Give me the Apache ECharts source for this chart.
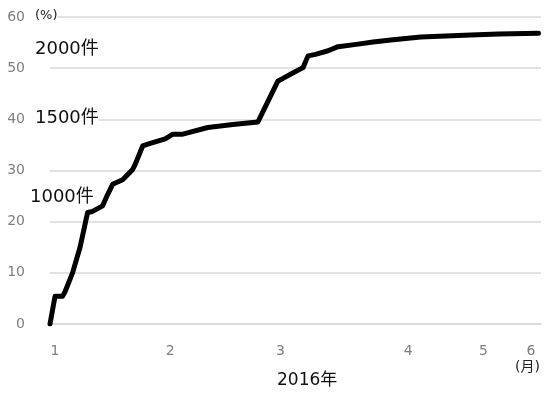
<!DOCTYPE html>
<html>
<head>
<meta charset="utf-8">
<script src="https://cdn.jsdelivr.net/npm/echarts@6/dist/echarts.min.js"></script>
<style>html,body{margin:0;padding:0;background:#fff}#c{width:548px;height:406px}</style>
</head>
<body>
<div id="c"></div>
<script>
// x positions are indices on an evenly spaced category scale (0..196)
const categoryCount = 197;
const monthTickIndex = [2, 48, 92, 143, 173, 192];
const monthTickLabels = ['1', '2', '3', '4', '5', '6'];
const pointIndex = [0, 2, 5, 6, 9, 12, 15, 17, 21, 23, 25, 29, 33, 34, 37, 40, 46, 49, 53, 63, 73, 83, 91, 93, 96, 101, 103, 106, 111, 115, 123, 129, 136, 148, 168, 179, 195];
const pointValue = [0, 5.4, 5.4, 6.3, 10, 15, 21.8, 22, 23.1, 25.3, 27.3, 28.2, 30.2, 31.2, 34.8, 35.3, 36.2, 37.1, 37.1, 38.4, 39, 39.5, 47.5, 48, 48.8, 50.1, 52.4, 52.7, 53.4, 54.2, 54.7, 55.1, 55.5, 56.1, 56.5, 56.7, 56.8];
const yTicks = [0, 10, 20, 30, 40, 50, 60];
const annotations = ['2000件', '1500件', '1000件'];

const categories = [];
for (let i = 0; i < categoryCount; i++) {
  const k = monthTickIndex.indexOf(i);
  categories.push(k >= 0 ? monthTickLabels[k] : '');
}
const seriesData = pointIndex.map((x, i) => [x, pointValue[i]]);

const FONT = '"DejaVu Sans", "Noto Sans CJK JP"';
const chart = echarts.init(document.getElementById('c'));
chart.setOption({
  animation: false,
  grid: { left: 50, right: 7, top: 17, bottom: 82, containLabel: false },
  xAxis: {
    type: 'category',
    data: categories,
    boundaryGap: false,
    axisLine: { show: true, lineStyle: { color: '#d9d9d9', width: 1.5 } },
    axisTick: { show: false },
    axisLabel: { interval: 0, color: '#7f7f7f', fontSize: 14, fontFamily: FONT, margin: 20 },
    splitLine: { show: false }
  },
  yAxis: {
    type: 'value',
    min: yTicks[0],
    max: yTicks[yTicks.length - 1],
    interval: 10,
    axisLine: { show: false },
    axisTick: { show: false },
    axisLabel: { color: '#7f7f7f', fontSize: 14, fontFamily: FONT, margin: 25 },
    splitLine: { lineStyle: { color: '#d9d9d9', width: 1.5 } }
  },
  series: [{
    type: 'line',
    data: seriesData,
    symbol: 'none',
    lineStyle: { color: '#000', width: 5, cap: 'round', join: 'round' },
    z: 3
  }],
  graphic: [
    { type: 'text', left: 35, top: 9, z: 10,
      style: { text: '(%)', fontSize: 13, fontFamily: FONT, fill: '#222', backgroundColor: '#fff' } },
    { type: 'text', left: 35, top: 40, z: 10,
      style: { text: annotations[0], fontSize: 18, fontFamily: FONT, fill: '#111' } },
    { type: 'text', left: 35, top: 109, z: 10,
      style: { text: annotations[1], fontSize: 18, fontFamily: FONT, fill: '#111', backgroundColor: '#fff' } },
    { type: 'text', left: 30, top: 188, z: 10,
      style: { text: annotations[2], fontSize: 18, fontFamily: FONT, fill: '#111' } },
    { type: 'text', left: 277, top: 372, z: 10,
      style: { text: '2016年', fontSize: 17, fontFamily: FONT, fill: '#111' } },
    { type: 'text', left: 515, top: 360, z: 10,
      style: { text: '(月)', fontSize: 14, fontFamily: FONT, fill: '#222' } }
  ]
});
</script>
</body>
</html>
